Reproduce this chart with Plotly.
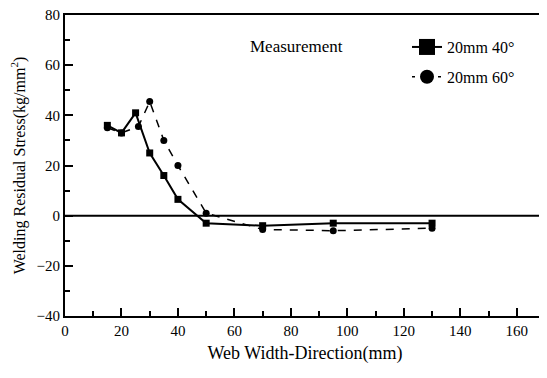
import plotly.graph_objects as go

# Data (Web width-direction in mm, stress in kg/mm^2)
x_40 = [15, 20, 25, 30, 35, 40, 50, 70, 95, 130]
y_40 = [36, 33, 41, 25, 16, 6.5, -3, -4, -3, -3]

x_60 = [15, 20, 26, 30, 35, 40, 50, 70, 95, 130]
y_60 = [35, 33, 35.5, 45.5, 30, 20, 1, -5.5, -6, -5]

name_40 = "20mm 40°"
name_60 = "20mm 60°"

x_ticks = list(range(0, 161, 20))
y_ticks = list(range(-40, 81, 20))

FONT = "Liberation Serif, DejaVu Serif, serif"

fig = go.Figure()

# zero line
fig.add_hline(y=0, line=dict(color="black", width=2))

# data traces
fig.add_trace(go.Scatter(
    x=x_40, y=y_40, mode="lines+markers", showlegend=False,
    line=dict(color="black", width=2),
    marker=dict(symbol="square", size=7, color="black"),
))
fig.add_trace(go.Scatter(
    x=x_60, y=y_60, mode="lines+markers", showlegend=False,
    line=dict(color="black", width=1.5, dash="8px,8px"),
    marker=dict(symbol="circle", size=7, color="black"),
))

# legend entries
fig.add_trace(go.Scatter(
    x=[None], y=[None], mode="lines+markers", name=name_40, legendgroup="a",
    line=dict(color="black", width=2),
    marker=dict(symbol="square", size=16, color="black"),
))
fig.add_trace(go.Scatter(
    x=[None], y=[None], mode="lines+markers", name=name_60, legendgroup="b",
    line=dict(color="black", width=1.5, dash="3px,10px"),
    marker=dict(symbol="circle", size=14, color="black"),
))

fig.add_annotation(
    x=82, y=67.5, xref="x", yref="y", text="Measurement", showarrow=False,
    font=dict(family=FONT, size=17, color="black"),
)

axis_common = dict(
    showgrid=False, zeroline=False, showline=True, linecolor="black",
    linewidth=2, mirror=True, ticks="inside", ticklen=8, tickwidth=2,
    tickcolor="black", tickfont=dict(family=FONT, size=15, color="black"),
    automargin=False, ticklabeloverflow="allow",
)

fig.update_xaxes(
    range=[0, 170], tickvals=x_ticks,
    minor=dict(ticks="inside", ticklen=5, tickwidth=2, tickcolor="black", dtick=10),
    title=dict(text="Web Width-Direction(mm)", font=dict(family=FONT, size=18, color="black"), standoff=8),
    **axis_common,
)
fig.update_yaxes(
    range=[-40, 80], tickvals=y_ticks,
    minor=dict(ticks="inside", ticklen=5, tickwidth=2, tickcolor="black", dtick=10),
    title=dict(text="Welding Residual Stress(kg/mm<sup>2</sup>)", font=dict(family=FONT, size=16, color="black"), standoff=16),
    **axis_common,
)

fig.update_layout(
    width=539, height=370,
    margin=dict(l=57, r=2, t=7, b=62),
    plot_bgcolor="white", paper_bgcolor="white",
    font=dict(family=FONT, color="black"),
    legend=dict(
        x=0.7125, y=0.95, xanchor="left", yanchor="top",
        bgcolor="rgba(0,0,0,0)", font=dict(family=FONT, size=16, color="black"),
        traceorder="grouped", tracegroupgap=6,
    ),
)

fig.write_html("out.html")
